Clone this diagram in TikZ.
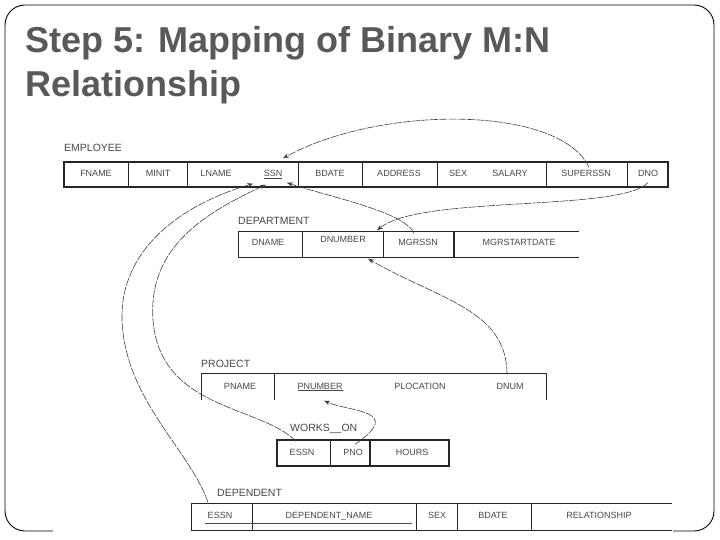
\documentclass[tikz,border=0pt]{standalone}
\usepackage{fontspec}
\setmainfont{Liberation Sans}
\usetikzlibrary{arrows.meta}
\definecolor{titlegray}{RGB}{89,89,89}
\tikzset{
  frameline/.style={draw=black, line width=0.9pt},
  tbl/.style={draw=black!85, line width=1.4pt},
  tblthin/.style={draw=black!85, line width=0.7pt},
  cell/.style={font=\fontsize{9}{10}\selectfont, text=black!72, inner sep=1pt, text height=6.5pt, text depth=2.5pt},
  tname/.style={font=\fontsize{10.5}{12}\selectfont, text=black!72, anchor=west, inner sep=0pt},
  fk/.style={draw=black!75, line width=0.6pt, dash pattern=on 8pt off 1.2pt, -{Stealth[length=6pt,width=4.5pt]}},
  ttl/.style={font=\fontsize{36}{40}\selectfont\bfseries, text=titlegray, anchor=base west, inner sep=0pt}
}
\begin{document}
\begin{tikzpicture}[x=1pt,y=-1pt]
\useasboundingbox (0,0) rectangle (720,540);
% slide frame
\draw[frameline, rounded corners=20] (5,5) rectangle (714,531);
\fill[white] (53,524) rectangle (673,537);
% title
\node[ttl] (title1) at (25,53) {Step 5: Mapping of Binary M:N};
\node[ttl] (title2) at (25,97) {Relationship};

% ---------- EMPLOYEE ----------
\node[tname] (lemp) at (64,148) {EMPLOYEE};
\foreach \x in {128,187,298,362,437,546,627} \draw[tblthin] (\x,162) -- (\x,187);
\draw[tbl] (64,162) rectangle (668,187);
\node[cell] (fname) at (96,175) {FNAME};
\node[cell] (minit) at (158,175) {MINIT};
\node[cell] (lname) at (216,175) {LNAME};
\node[cell] (ssn) at (273,175) {\underline{SSN}};
\node[cell] (bdate) at (330,175) {BDATE};
\node[cell] (address) at (399,175) {ADDRESS};
\node[cell] (sex) at (458,175) {SEX};
\node[cell] (salary) at (510,175) {SALARY};
\node[cell] (superssn) at (586,175) {SUPERSSN};
\node[cell] (dno) at (648,175) {DNO};

% ---------- DEPARTMENT ----------
\node[tname] (ldept) at (238,221) {DEPARTMENT};
\draw[tblthin] (579,231) -- (238,231) -- (238,257) -- (579,257);
\foreach \x in {302,383} \draw[tblthin] (\x,231) -- (\x,257);
\draw[tbl] (454,231) -- (454,257);
\node[cell] (dname) at (268,243) {DNAME};
\node[cell] (dnumber) at (343,241) {DNUMBER};
\node[cell] (mgrssn) at (418,243) {MGRSSN};
\node[cell] (mgrstart) at (519,243) {MGRSTARTDATE};

% ---------- PROJECT ----------
\node[tname] (lproj) at (201,364) {PROJECT};
\draw[tblthin] (201,400) -- (201,373) -- (546,373) -- (546,400);
\draw[tblthin] (274,373) -- (274,400);
\node[cell] (pname) at (240,387) {PNAME};
\node[cell] (pnumber) at (320,387) {\underline{PNUMBER}};
\node[cell] (plocation) at (420,387) {PLOCATION};
\node[cell] (dnum) at (510,387) {DNUM};

% ---------- WORKS_ON ----------
\node[tname] (lworks) at (290,429) {WORKS\_\_ON};
\draw[tblthin] (330,440) -- (330,466);
\draw[tbl] (370,440) -- (370,466);
\draw[tbl] (277,440) rectangle (449,466);
\node[cell] (wessn) at (302,453) {ESSN};
\node[cell] (pno) at (353,453) {PNO};
\node[cell] (hours) at (412,453) {HOURS};

% ---------- DEPENDENT ----------
\node[tname] (ldep) at (217,493) {DEPENDENT};
\draw[tblthin] (672,503) -- (191,503) -- (191,530) -- (672,530);
\foreach \x in {252,416,457,531} \draw[tblthin] (\x,503) -- (\x,530);
\node[cell] (dessn) at (220,516) {ESSN};
\node[cell] (depname) at (329,516) {DEPENDENT\_NAME};
\node[cell] (dsex) at (437,516) {SEX};
\node[cell] (dbdate) at (493,516) {BDATE};
\node[cell] (relship) at (599,516) {RELATIONSHIP};
\draw[black!70, line width=0.6pt] (205,523) -- (412,523);

% ---------- foreign key connectors ----------
% SUPERSSN -> SSN
\draw[fk] ([xshift=3pt,yshift=2pt]superssn.north) .. controls (560,105) and (380,105) .. ([xshift=10pt,yshift=11pt]ssn.north);
% DNO -> DNUMBER
\draw[fk] ([yshift=-2pt]dno.south) .. controls (620,212) and (420,195) .. ([xshift=34pt,yshift=5pt]dnumber.north);
% MGRSSN -> SSN
\draw[fk] ([xshift=-4pt,yshift=4pt]mgrssn.north) .. controls (405,212) and (330,197) .. ([xshift=14pt,yshift=-2pt]ssn.south);
% DNUM -> DNUMBER
\draw[fk] ([xshift=-3pt,yshift=7pt]dnum.north) .. controls (507,310) and (440,300) .. ([xshift=25pt,yshift=-12pt]dnumber.south);
% WORKS_ON.ESSN -> SSN
\draw[fk] ([xshift=-6pt,yshift=6pt]wessn.north) .. controls (260,405) and (160,410) .. (153,320) .. controls (148,250) and (200,215) .. ([xshift=-7pt,yshift=-4pt]ssn.south);
% DEPENDENT.ESSN -> SSN
\draw[fk] ([xshift=-12pt,yshift=8pt]dessn.north) .. controls (190,450) and (125,400) .. (122,320) .. controls (120,250) and (180,205) .. ([xshift=-20pt,yshift=-3pt]ssn.south);
% PNO -> PNUMBER
\draw[fk] ([xshift=2pt,yshift=3pt]pno.north) .. controls (405,410) and (350,412) .. ([xshift=4pt,yshift=-8pt]pnumber.south);
\end{tikzpicture}
\end{document}
